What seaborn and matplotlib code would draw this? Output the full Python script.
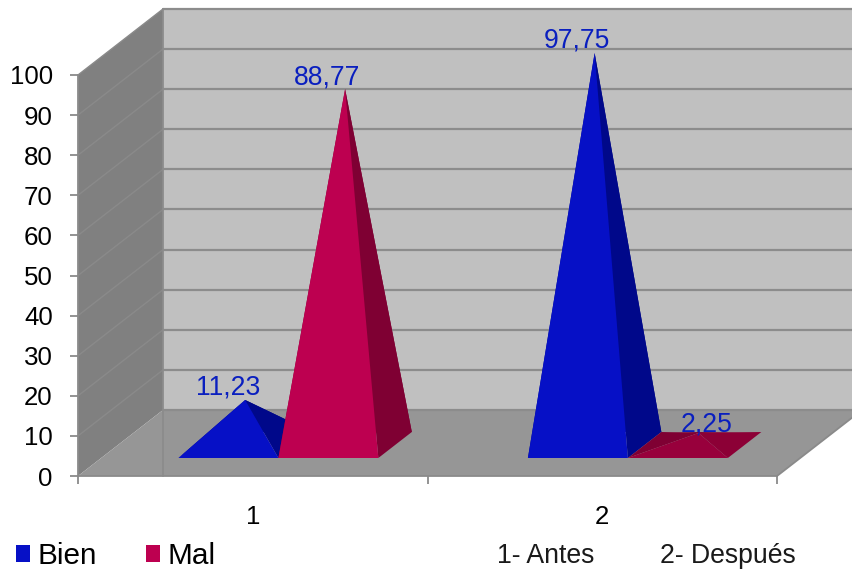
import matplotlib
matplotlib.use("Agg")
import matplotlib.pyplot as plt
from matplotlib.patches import Polygon, Patch, Rectangle
import pandas as pd
import seaborn as sns

# ---- data ----
categories = ["1", "2"]
series_names = ["Bien", "Mal"]
bien_values = [11.23, 97.75]
mal_values = [88.77, 2.25]
bien_labels = ["11,23", "97,75"]
mal_labels = ["88,77", "2,25"]
y_ticks = list(range(0, 101, 10))
notes = ["1- Antes", "2- Después"]

# ---- style ----
W, H = 852, 574
FONT = "Liberation Sans"
FS = 18.6
FS_LABEL = 19.1
FS_LEGEND = 21.4
FS_NOTE = 19.2
DEPTH_X = 85 / 349.5      # category units per full depth
DEPTH_Y = 66 / 4.01       # value units per full depth
BASE_D0, BASE_D1 = 18 / 66, 44 / 66
FLAT_APEX_D = 0.515
BASE_SHIFT = 0.007
C_WALL, C_SIDE, C_FLOOR = "#C0C0C0", "#808080", "#969696"
C_GRID, C_GRID_SIDE, C_AXIS = "#8C8C8C", "#8A8A8A", "#8A8A8A"
C_TEXT = "#0A1FBF"
FRONT = {"Bien": "#0610C6", "Mal": "#BD0050"}
SIDE = {"Bien": "#00088A", "Mal": "#7F0033"}
FLAT_FRONT = {"Mal": "#98003C"}
FLAT_RIGHT = {"Mal": "#8C0036"}
LABEL_OFFSETS_PX = {("Bien", "1"): (-17, 5), ("Bien", "2"): (-18, 6),
                    ("Mal", "1"): (-18, 5), ("Mal", "2"): (8, 1)}

sns.set_theme(style="white")
plt.rcParams["font.family"] = [FONT, "DejaVu Sans"]

fig = plt.figure(figsize=(W / 100, H / 100), dpi=100, facecolor="white")
ax = fig.add_axes([78 / W, (H - 476) / H, 699 / W, 401 / H])
ax.patch.set_alpha(0)

df = pd.DataFrame({
    "categoria": categories * 2,
    "serie": [series_names[0]] * 2 + [series_names[1]] * 2,
    "valor": bien_values + mal_values,
})
sns.barplot(data=df, x="categoria", y="valor", hue="serie", order=categories,
            hue_order=series_names, width=0.572, gap=0, ax=ax, legend=False,
            errorbar=None)
ax.set_xlim(-0.5, 1.5)
ax.set_ylim(0, 100)
ax.set_xlabel("")
ax.set_ylabel("")

# seaborn's own bars, read before any other patch is added
bars = [p for p in ax.patches if isinstance(p, Rectangle)]


def proj(x, y, d):
    return (x + d * DEPTH_X, y + d * DEPTH_Y)


def poly(pts, color, z, edge="none", lw=0):
    ax.add_patch(Polygon(pts, closed=True, facecolor=color, edgecolor=edge,
                         linewidth=lw, clip_on=False, zorder=z))


x0, x1 = ax.get_xlim()
poly([proj(x0, 0, 0), proj(x0, 0, 1), proj(x0, 100, 1), proj(x0, 100, 0)], C_SIDE, 0.1)
poly([proj(x0, 0, 1), proj(x1, 0, 1), proj(x1, 100, 1), proj(x0, 100, 1)], C_WALL, 0.1)
poly([proj(x0, 0, 0), proj(x1, 0, 0), proj(x1, 0, 1), proj(x0, 0, 1)], C_FLOOR, 0.2)

for v in y_ticks:
    a, b, c = proj(x0, v, 0), proj(x0, v, 1), proj(x1, v, 1)
    if v > 0:
        ax.plot([a[0], b[0]], [a[1], b[1]], color=C_GRID_SIDE, lw=1.0, clip_on=False, zorder=0.3)
    ax.plot([b[0], c[0]], [b[1], c[1]], color=C_GRID, lw=1.6, clip_on=False, zorder=0.3)
ax.plot([x1, x1 + DEPTH_X], [0, DEPTH_Y], color=C_AXIS, lw=1.3, clip_on=False, zorder=0.3)
ax.plot([x0 + DEPTH_X] * 2, [0, 100 + DEPTH_Y], color=C_GRID, lw=1.3, clip_on=False, zorder=0.3)

# Turn each seaborn bar into a pyramid using its own x, width and height
n_cat = len(categories)
z = 1.0
for i in range(n_cat):
    for j, name in enumerate(series_names):
        bar = bars[j * n_cat + i]
        left = bar.get_x() + BASE_SHIFT
        right = left + bar.get_width()
        h = bar.get_height()
        bar.set_visible(False)
        fl, fr = proj(left, 0, BASE_D0), proj(right, 0, BASE_D0)
        bl, br = proj(left, 0, BASE_D1), proj(right, 0, BASE_D1)
        mid = (left + right) / 2
        flat = h < 5
        apex = proj(mid, h, FLAT_APEX_D if flat else (BASE_D0 + BASE_D1) / 2)
        front = FLAT_FRONT.get(name, FRONT[name]) if flat else FRONT[name]
        rside = FLAT_RIGHT.get(name, SIDE[name]) if flat else SIDE[name]
        poly([bl, br, apex], SIDE[name], z)
        poly([fl, bl, apex], SIDE[name], z + 0.01)
        poly([fr, br, apex], rside, z + 0.02)
        poly([fl, fr, apex], front, z + 0.03)
        z += 0.1
        label = (bien_labels if name == series_names[0] else mal_labels)[i]
        ox, oy = LABEL_OFFSETS_PX[(name, categories[i])]
        ax.annotate(label, xy=apex, xytext=(ox * 0.72, oy * 0.72),
                    textcoords="offset points", ha="center", va="baseline",
                    color=C_TEXT, fontsize=FS_LABEL, zorder=5, annotation_clip=False)

# axes
for s in ["top", "right"]:
    ax.spines[s].set_visible(False)
for s in ["left", "bottom"]:
    ax.spines[s].set_color(C_AXIS)
    ax.spines[s].set_linewidth(1.3)
    ax.spines[s].set_zorder(0.4)
ax.set_yticks(y_ticks)
ax.set_yticklabels([str(v) for v in y_ticks], fontsize=FS, color="black")
ax.tick_params(axis="y", left=True, length=6, width=1.3, color=C_AXIS, pad=17 * 0.72)
ax.set_xticks([0, 1])
ax.set_xticklabels(categories, fontsize=FS, color="black")
ax.tick_params(axis="x", which="major", bottom=False, length=0, pad=21)
ax.set_xticks([-0.5, 0.5, 1.5], minor=True)
ax.tick_params(axis="x", which="minor", bottom=True, length=6, width=1.3, color=C_AXIS)
for lab in ax.get_xticklabels() + ax.get_yticklabels():
    lab.set_fontfamily(FONT)

handles = [Patch(facecolor=FRONT[n], edgecolor="none", label=n) for n in series_names]
fig.legend(handles=handles, ncol=2, loc="lower left", bbox_to_anchor=(16 / W, (H - 570) / H),
           frameon=False, fontsize=FS_LEGEND, borderpad=0, borderaxespad=0, handlelength=0.47,
           handleheight=0.47, handletextpad=0.24, columnspacing=1.68, labelcolor="black")
for note, px in zip(notes, [497, 660]):
    fig.text(px / W, (H - 556) / H, note, ha="left", va="center", fontsize=FS_NOTE,
             color="#1a1a1a", family=FONT)

fig.savefig("out.png", dpi=100, facecolor="white")
